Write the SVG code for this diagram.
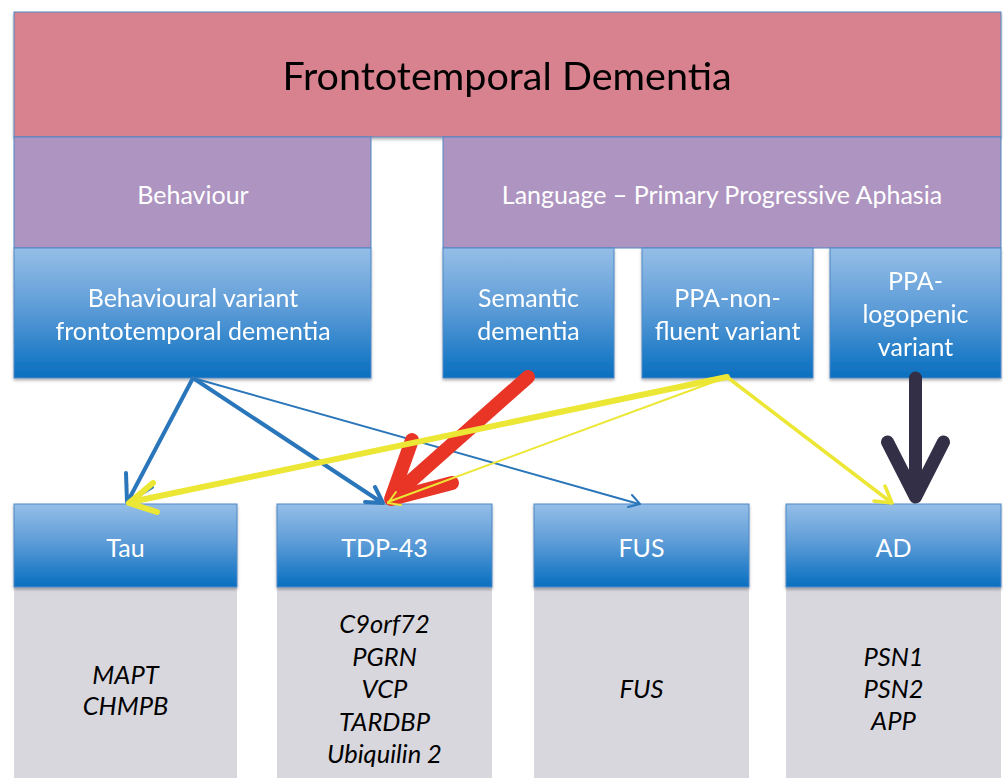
<svg xmlns="http://www.w3.org/2000/svg" width="1003" height="778" viewBox="0 0 1003 778">
<defs>
<linearGradient id="blueGrad" x1="0" y1="0" x2="0" y2="1">
<stop offset="0" stop-color="#95bee7"/>
<stop offset="0.45" stop-color="#5f9dd8"/>
<stop offset="0.9" stop-color="#1677c4"/>
<stop offset="1" stop-color="#0c70bf"/>
</linearGradient>
<filter id="shadow" x="-5%" y="-5%" width="110%" height="115%">
<feDropShadow dx="0" dy="2" stdDeviation="1.5" flood-color="#000" flood-opacity="0.3"/>
</filter>
<style>
.pink{fill:#d8828f;stroke:#4f88c6;stroke-width:1}
.purple{fill:#ae94c0;stroke:#4f88c6;stroke-width:1}
.blue{fill:url(#blueGrad);stroke:#4f88c6;stroke-width:1}
.gray{fill:#d8d7dd}
.t{font-family:Lato,"Liberation Sans",sans-serif;fill:#fff;text-anchor:middle;font-size:25px}
.title{font-family:Lato,"Liberation Sans",sans-serif;fill:#000;text-anchor:middle;font-size:39.5px}
.g{font-family:Lato,"Liberation Sans",sans-serif;fill:#000;text-anchor:middle;font-size:25.5px;font-style:italic}
.arr{fill:none;stroke-linecap:round;stroke-linejoin:round}
.bl{stroke:#2a76ba}
.ye{stroke:#ece634}
.rd{stroke:#e83526}
.dk{stroke:#322f46}
</style>
</defs>
<rect width="1003" height="778" fill="#fff"/>

<g id="ftd" filter="url(#shadow)">
<rect class="pink" x="14" y="12" width="987" height="125"/>
<text class="title" x="507" y="90">Frontotemporal Dementia</text>
</g>
<g id="behaviour">
<rect class="purple" x="14" y="137" width="357" height="111"/>
<text class="t" x="193" y="204">Behaviour</text>
</g>
<g id="language">
<rect class="purple" x="443" y="137" width="558" height="111"/>
<text class="t" x="722" y="204">Language – Primary Progressive Aphasia</text>
</g>
<g id="bvftd" filter="url(#shadow)">
<rect class="blue" x="14" y="248" width="357" height="130"/>
<text class="t" x="193" y="307">Behavioural variant</text>
<text class="t" x="193" y="340">frontotemporal dementia</text>
</g>
<g id="semantic" filter="url(#shadow)">
<rect class="blue" x="443" y="248" width="171" height="130"/>
<text class="t" x="528.5" y="307">Semantic</text>
<text class="t" x="528.5" y="340">dementia</text>
</g>
<g id="nonfluent" filter="url(#shadow)">
<rect class="blue" x="642" y="248" width="171" height="130"/>
<text class="t" x="727.5" y="307">PPA-non-</text>
<text class="t" x="727.5" y="340">fluent variant</text>
</g>
<g id="logopenic" filter="url(#shadow)">
<rect class="blue" x="830" y="248" width="171" height="130"/>
<text class="t" x="915.5" y="290">PPA-</text>
<text class="t" x="915.5" y="323">logopenic</text>
<text class="t" x="915.5" y="356">variant</text>
</g>

<g id="tau">
<rect class="gray" x="14" y="587" width="223" height="191"/>
<rect class="blue" x="14" y="504" width="223" height="83" filter="url(#shadow)"/>
<text class="t" x="125.5" y="557">Tau</text>
<text class="g" x="125.5" y="684">MAPT</text>
<text class="g" x="125.5" y="715">CHMPB</text>
</g>
<g id="tdp43">
<rect class="gray" x="277" y="587" width="215" height="191"/>
<rect class="blue" x="277" y="504" width="215" height="83" filter="url(#shadow)"/>
<text class="t" x="384.5" y="557">TDP-43</text>
<text class="g" x="384.5" y="633">C9orf72</text>
<text class="g" x="384.5" y="666">PGRN</text>
<text class="g" x="384.5" y="698">VCP</text>
<text class="g" x="384.5" y="731">TARDBP</text>
<text class="g" x="384.5" y="763">Ubiquilin 2</text>
</g>
<g id="fus">
<rect class="gray" x="534" y="587" width="215" height="191"/>
<rect class="blue" x="534" y="504" width="215" height="83" filter="url(#shadow)"/>
<text class="t" x="641.5" y="557">FUS</text>
<text class="g" x="641.5" y="698">FUS</text>
</g>
<g id="ad">
<rect class="gray" x="786" y="587" width="215" height="191"/>
<rect class="blue" x="786" y="504" width="215" height="83" filter="url(#shadow)"/>
<text class="t" x="893.5" y="557">AD</text>
<text class="g" x="893.5" y="666">PSN1</text>
<text class="g" x="893.5" y="698">PSN2</text>
<text class="g" x="893.5" y="730">APP</text>
</g>

<g id="connectors">
<path class="arr bl" stroke-width="4" d="M193,378 L128,501 M126,473 L127,502 L152,487"/>
<path class="arr bl" stroke-width="4" d="M193,378 L381,502 M365,502 L383,503 L375,487"/>
<path class="arr bl" stroke-width="2" d="M193,378 L639,504 M632,495 L640,504 L628,507"/>
<path class="arr rd" stroke-width="14" stroke-linecap="butt" d="M528,377 L395,495"/>
<path class="arr rd" stroke-width="14" d="M412,440 L391,499 L452,483"/>
<path class="arr dk" stroke-width="13" stroke-linecap="butt" d="M915.5,378 L915.5,492"/>
<path class="arr dk" stroke-width="13" d="M887.5,442 L915.5,497 L943.5,442"/>
<path class="arr ye" stroke-width="6" d="M727,377 L131,502 M153,483 L129,503 L157,512"/>
<path class="arr ye" stroke-width="2" d="M727,377 L388,502 M396,492 L388,503 L401,505"/>
<path class="arr ye" stroke-width="3.5" d="M727,377 L892,503 M885,486 L892,503 L874,501"/>
</g>
</svg>
